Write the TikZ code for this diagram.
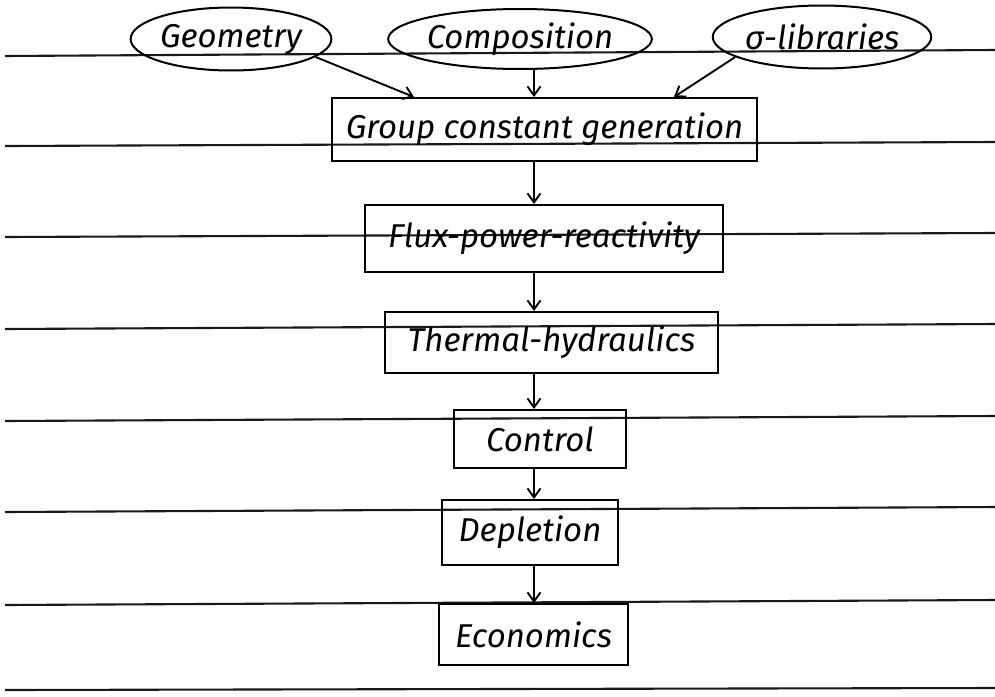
\documentclass[tikz,border=0pt]{standalone}
\usepackage{fontspec}
\newfontfamily\hand{Fira Sans Italic}
\usetikzlibrary{shapes.geometric,arrows.meta}

\tikzset{
  rule/.style={line width=2.1pt, black!90},
  oval/.style={ellipse, draw, line width=2pt, inner sep=0pt, font=\hand\fontsize{33}{36}\selectfont},
  stage/.style={rectangle, draw, line width=2pt, inner sep=0pt, font=\hand\fontsize{33}{36}\selectfont},
  arr/.style={line width=1.9pt, -{Straight Barb[length=9pt,width=13pt,line width=1.9pt]}}
}

\begin{document}
\begin{tikzpicture}[x=1pt, y=-1pt]
  % page and its ruled lines
  \fill[white] (0,0) rectangle (995,696);
  \useasboundingbox (0,0) rectangle (995,696);
  \foreach \yl/\yr in {56/50, 146/142, 237/233, 329/324, 421/416, 512/507, 605/600, 690/688}
    \draw[rule] (5,\yl) -- (995,\yr);

  % inputs
  \node[oval, minimum width=187pt, minimum height=63pt] (geo)  at (231,39) {Geometry};
  \node[oval, minimum width=200pt, minimum height=60pt] (comp) at (520,39) {Composition};
  \node[oval, minimum width=191pt, minimum height=63pt] (sig)  at (822,37) {σ-libraries};

  % calculation chain
  \node[stage, minimum width=425pt, minimum height=63pt] (gcg)  at (544.5,129.5) {Group constant generation};
  \node[stage, minimum width=358pt, minimum height=67pt] (flux) at (544,238.5) {Flux-power-reactivity};
  \node[stage, minimum width=333pt, minimum height=61pt] (th)   at (551.5,342.5) {Thermal-hydraulics};
  \node[stage, minimum width=172pt, minimum height=58pt] (ctrl) at (540,439) {Control};
  \node[stage, minimum width=176pt, minimum height=65pt] (dep)  at (530,532.5) {Depletion};
  \node[stage, minimum width=189pt, minimum height=61pt] (eco)  at (533.5,634.5) {Economics};

  \coordinate (spine) at (534,0);

  % input arrows
  \draw[arr] (geo.-12) -- ([xshift=83pt]gcg.north west);
  \draw[arr] (comp.south -| spine) -- (gcg.north -| spine);
  \draw[arr] (sig.193) -- ([xshift=-84pt]gcg.north east);

  % chain arrows
  \draw[arr] (gcg.south -| spine)  -- (flux.north -| spine);
  \draw[arr] (flux.south -| spine) -- (th.north -| spine);
  \draw[arr] (th.south -| spine)   -- (ctrl.north -| spine);
  \draw[arr] (ctrl.south -| spine) -- (dep.north -| spine);
  \draw[arr] (dep.south -| spine)  -- (eco.north -| spine);
\end{tikzpicture}
\end{document}
